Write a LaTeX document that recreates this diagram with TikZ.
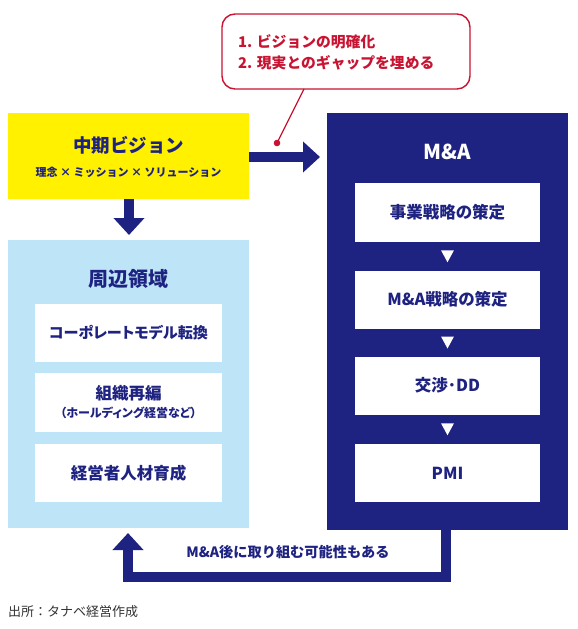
\documentclass[tikz,border=0pt]{standalone}
\usepackage{fontspec}
\setmainfont{Noto Sans CJK JP}
\newfontfamily\jpp[RawFeature=+palt]{Noto Sans CJK JP}
\usetikzlibrary{arrows.meta,calc}
\definecolor{navy}{RGB}{30,34,128}
\definecolor{lblue}{RGB}{190,228,248}
\definecolor{vyellow}{RGB}{255,241,0}
\definecolor{cred}{RGB}{200,20,50}
\definecolor{srcgray}{RGB}{50,50,50}
\tikzset{
  panel/.style={minimum width=241pt,inner sep=0pt,outer sep=0pt,draw=none},
  wbox/.style={fill=white,minimum height=58pt,inner sep=0pt,outer sep=0pt,text=navy,font=\jpp\bfseries\fontsize{16.5}{19}\selectfont,align=center},
  ttl/.style={text=navy,font=\bfseries\fontsize{18}{20}\selectfont,inner sep=0pt},
  bigarrow/.style={draw=navy,line width=9.5pt,-{Triangle[width=30pt,length=17pt]}},
  tri/.style={fill=white}
}
\begin{document}
\begin{tikzpicture}[x=1pt,y=-1pt]
\useasboundingbox (0,0) rectangle (578,629);
% panels
\node[panel,fill=vyellow,minimum height=86pt] (vision) at (128.5,156) {};
\node[panel,fill=lblue,minimum height=288pt] (peri) at (128.5,384) {};
\node[panel,fill=navy,minimum height=417pt] (ma) at (447.5,321.5) {};
% vision text
\node[ttl,font=\bfseries\fontsize{18.5}{20}\selectfont] (visiont) at (128.5,145) {中期ビジョン};
\node[text=navy,font=\bfseries\fontsize{11}{13}\selectfont,inner sep=0pt] (visions) at (128.5,172) {理念 × ミッション × ソリューション};
% peripheral
\node[ttl,font=\bfseries\fontsize{20}{22}\selectfont] (perit) at (128.5,279) {周辺領域};
\node[wbox,minimum width=187pt,font=\jpp\bfseries\fontsize{15.1}{18}\selectfont] (p1) at (128.5,333) {コーポレートモデル転換};
\node[wbox,minimum width=187pt,minimum height=59pt] (p2) at (128.5,402.5) {組織再編\\[-1pt]{\fontsize{12}{14}\selectfont （ホールディング経営など）}};
\node[wbox,minimum width=187pt] (p3) at (128.5,473) {経営者人材育成};
% M&A
\node[ttl,text=white,font=\bfseries\fontsize{20.5}{22}\selectfont] (mat) at (447.5,152) {M\&A};
\node[wbox,minimum width=185pt,minimum height=59pt] (m1) at (447.5,212.5) {事業戦略の策定};
\node[wbox,minimum width=185pt] (m2) at (447.5,299.5) {M\&A戦略の策定};
\node[wbox,minimum width=185pt] (m3) at (447.5,385.5) {交渉･DD};
\node[wbox,minimum width=185pt] (m4) at (447.5,473) {PMI};
\foreach \a/\b in {m1/m2,m2/m3,m3/m4}{
  \fill[tri] ($(\a.south)!0.5!(\b.north)$) ++(-6.5,-6) -- ++(13,0) -- ++(-6.5,12) -- cycle;
}
% arrows
\draw[bigarrow,shorten >=7pt] (vision.east |- 0,157) -- (ma.west |- 0,157);
\draw[bigarrow,shorten >=5pt] (vision.south -| 129,0) -- (peri.north -| 129,0);
\coordinate (fbr) at (446,577);
\coordinate (fbl) at (128,577);
\draw[bigarrow,shorten >=5pt] (ma.south -| 446,0) -- (fbr) -- (fbl) -- (peri.south -| 128,0);
\node[text=navy,font=\bfseries\fontsize{14.2}{16}\selectfont,inner sep=0pt] (fbt) at (288,552) {M\&A後に取り組む可能性もある};
% callout
\node[draw=cred,line width=1.4pt,rounded corners=13pt,minimum width=248pt,minimum height=75pt,fill=white] (call) at (346,51.5) {};
\node[text=cred,font=\bfseries\fontsize{14.8}{21}\selectfont,align=left,anchor=west,inner sep=0pt] (callt) at (238,52.5) {1. ビジョンの明確化\\2. 現実とのギャップを埋める};
\coordinate (callp) at (304,89);
\fill[cred] (277,143) circle (3.3pt) coordinate (dot);
\draw[cred,line width=1.2pt] (callp) -- (dot);
% source
\node[text=srcgray,font=\fontsize{13}{15}\selectfont,anchor=west,inner sep=0pt] (src) at (8,612) {出所：タナベ経営作成};
\end{tikzpicture}
\end{document}
